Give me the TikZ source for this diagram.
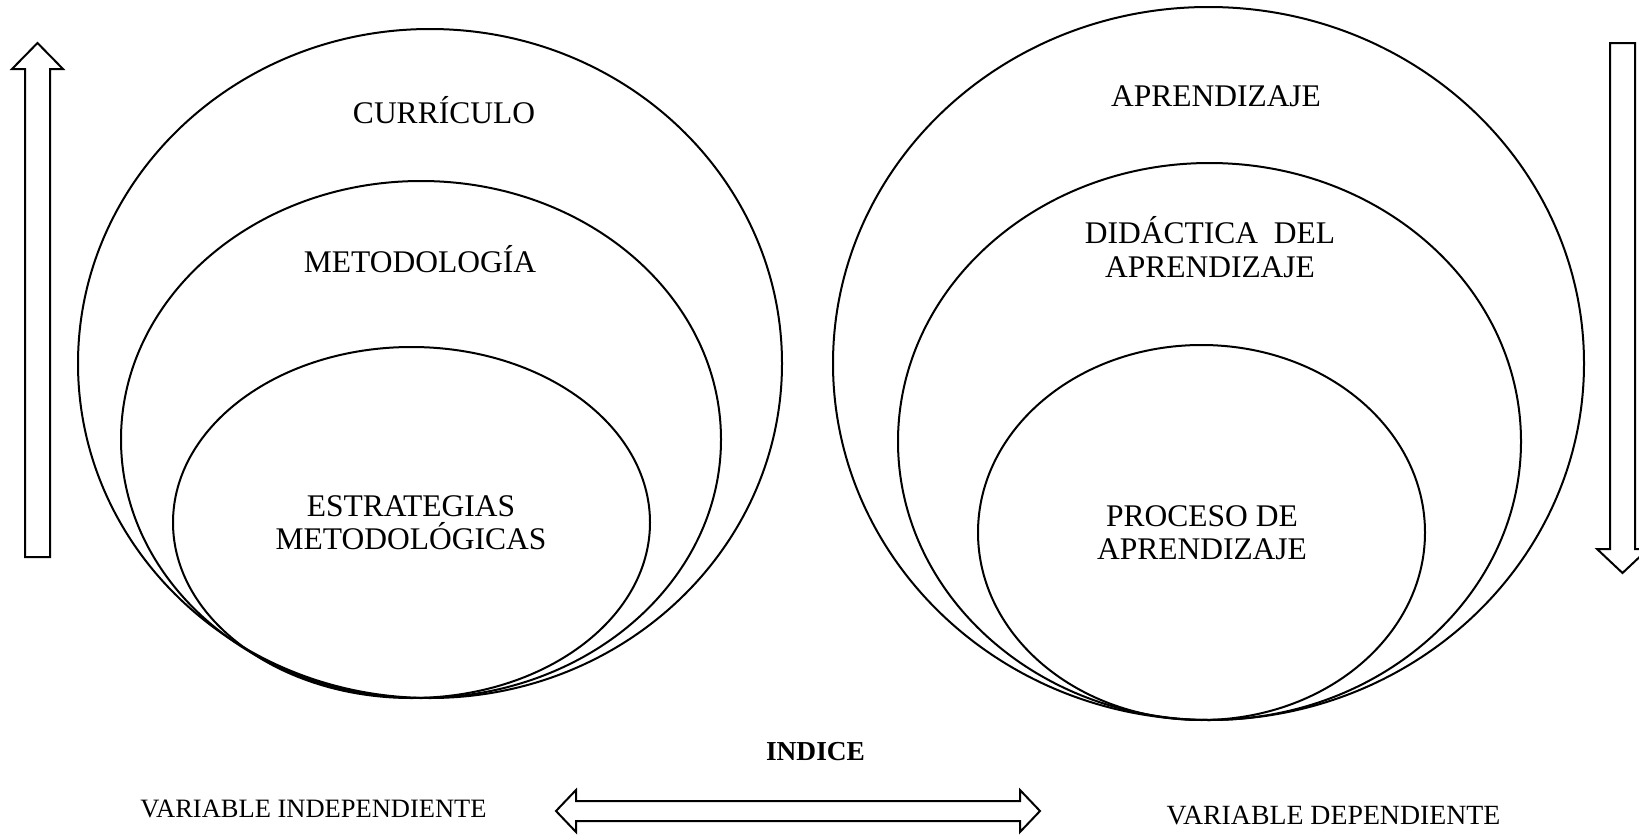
\documentclass[tikz,border=0pt]{standalone}
\usepackage{fontspec}
\setmainfont{Liberation Serif}
\begin{document}
\begin{tikzpicture}[x=1pt,y=-1pt,
  ring/.style={draw=black,line width=2pt},
  blockarrow/.style={draw=black,line width=2pt,line join=miter,fill=white},
  lbl/.style={font=\fontsize{31.5}{33.5}\selectfont,align=center,inner sep=0pt,anchor=base},
  varlbl/.style={inner sep=0pt,anchor=center}]
\useasboundingbox[fill=white] (0,0) rectangle (1639,835);
% left ellipses
\draw[ring] (430,363.5) ellipse [x radius=352,y radius=334.5];
\draw[ring] (421,439.5) ellipse [x radius=300,y radius=258.5];
\draw[ring] (411.5,522.5) ellipse [x radius=238.5,y radius=175.5];
% right ellipses
\draw[ring] (1208.5,363.5) ellipse [x radius=375.5,y radius=356.5];
\draw[ring] (1209.5,441.5) ellipse [x radius=311.5,y radius=278.5];
\draw[ring] (1201.5,532.5) ellipse [x radius=223.5,y radius=187.5];
% labels (multi-line: anchor at last baseline)
\node[lbl] (curr) at (444,123) {CURRÍCULO};
\node[lbl] (meto) at (420,272) {METODOLOGÍA};
\node[lbl] (estr) at (411,549.5) {ESTRATEGIAS\\METODOLÓGICAS};
\node[lbl] (apre) at (1216,106) {APRENDIZAJE};
\node[lbl] (dida) at (1210,277) {DIDÁCTICA\hspace{0.5em}DEL\\APRENDIZAJE};
\node[lbl] (proc) at (1202,559.5) {PROCESO DE\\APRENDIZAJE};
% block arrows
\draw[blockarrow] (25,557) -- (25,69) -- (12,69) -- (37.5,43) -- (63,69) -- (50,69) -- (50,557) -- cycle;
\draw[blockarrow] (1610,43) -- (1610,549) -- (1597,549) -- (1622.5,573) -- (1648,549) -- (1635,549) -- (1635,43) -- cycle;
\draw[blockarrow] (556,811) -- (576,790) -- (576,801) -- (1020,801) -- (1020,790) -- (1040,811) -- (1020,832) -- (1020,821) -- (576,821) -- (576,832) -- cycle;
% bottom texts
\node[varlbl,font=\fontsize{27.4}{30}\selectfont\bfseries] (ind) at (815.5,752) {INDICE};
\node[varlbl,font=\fontsize{26.5}{29}\selectfont] (vi) at (313.5,809) {VARIABLE INDEPENDIENTE};
\node[varlbl,font=\fontsize{27.8}{30}\selectfont] (vd) at (1333.5,816) {VARIABLE DEPENDIENTE};
\end{tikzpicture}
\end{document}
